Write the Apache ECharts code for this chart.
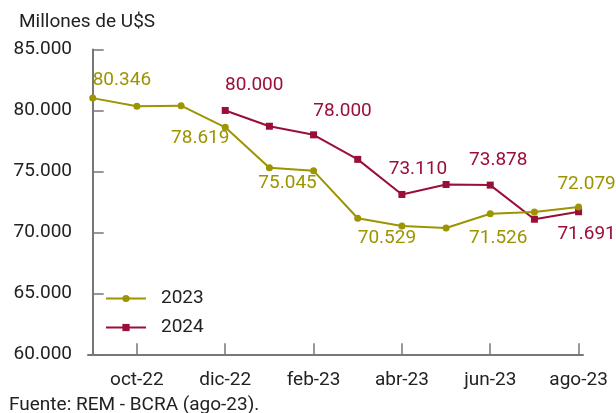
<!DOCTYPE html>
<html>
<head>
<meta charset="utf-8">
<script src="https://cdn.jsdelivr.net/npm/echarts@6/dist/echarts.min.js"></script>
<style>
html,body{margin:0;padding:0;background:#fff;}
#c{width:616px;height:413px;}
</style>
</head>
<body>
<div id="c"></div>
<script>
// ---- data ----
var categories = ['sep-22','oct-22','nov-22','dic-22','ene-23','feb-23','mar-23','abr-23','may-23','jun-23','jul-23','ago-23'];
var values2023 = [81013, 80346, 80390, 78619, 75304, 75045, 71160, 70529, 70362, 71526, 71680, 72079];
var values2024 = [null, null, null, 80000, 78706, 78000, 75988, 73110, 73929, 73878, 71079, 71691];
var tickLabelIdx = [1, 3, 5, 7, 9, 11];
var yTicks = [60000, 65000, 70000, 75000, 80000, 85000];

// ---- label placement (style only) ----
var lab2023 = {1: [-15, -26], 3: [-25, 11], 5: [-26, 12], 7: [-15, 12], 9: [8, 24], 11: [8, -23]};
var lab2024 = {3: [29, -25], 5: [29, -24], 7: [16, -25], 9: [8, -25], 11: [8, 22]};

var C23 = '#9C9400';
var C24 = '#9B0E38';
var FONT = 'Roboto';
var FS = 19;

function fmt(v) {
  return String(Math.round(v)).replace(/\B(?=(\d{3})+(?!\d))/g, '.');
}

function build(vals, labs, color) {
  var out = [];
  for (var i = 0; i < vals.length; i++) {
    if (vals[i] == null) continue;
    var item = {value: [i, vals[i]]};
    if (labs[i]) {
      item.label = {
        show: true, position: 'inside', offset: labs[i],
        formatter: function (p) { return fmt(p.value[1]); },
        color: color, fontSize: FS, fontFamily: FONT
      };
    }
    out.push(item);
  }
  return out;
}

var chart = echarts.init(document.getElementById('c'), null, {renderer: 'canvas'});
chart.setOption({
  animation: false,
  backgroundColor: '#fff',
  textStyle: {fontFamily: FONT},
  title: [
    {text: 'Millones de U$S', left: 14, top: 8, textStyle: {fontSize: FS, fontWeight: 'normal', color: '#222', fontFamily: FONT}},
    {text: 'Fuente: REM - BCRA (ago-23).', left: 4, top: 391, textStyle: {fontSize: FS, fontWeight: 'normal', color: '#222', fontFamily: FONT}}
  ],
  grid: {left: 88, right: 33, top: 49.5, bottom: 58.7, containLabel: false},
  legend: {
    orient: 'vertical', left: 100, top: 284, itemWidth: 40, itemHeight: 9, itemGap: 10,
    textStyle: {fontSize: FS, color: '#222', fontFamily: FONT, padding: [0, 0, 0, 10]},
    data: ['2023', '2024']
  },
  xAxis: {
    type: 'value', min: -0.107, max: 11.1,
    splitLine: {show: false},
    axisLine: {show: true, lineStyle: {color: '#777', width: 2}},
    axisTick: {show: true, inside: true, length: 11, customValues: tickLabelIdx, lineStyle: {color: '#777', width: 1.5}},
    axisLabel: {customValues: tickLabelIdx, margin: 16, fontSize: FS, color: '#222', fontFamily: FONT,
      formatter: function (v) { return categories[Math.round(v)] || ''; }}
  },
  yAxis: {
    type: 'value', min: 60000, max: 85000, interval: 5000,
    splitLine: {show: false},
    axisLine: {show: true, lineStyle: {color: '#777', width: 2}},
    axisTick: {show: true, inside: true, length: 11, lineStyle: {color: '#777', width: 1.5}},
    axisLabel: {margin: 16, fontSize: FS, color: '#222', fontFamily: FONT, formatter: fmt}
  },
  series: [
    {name: '2023', type: 'line', data: build(values2023, lab2023, C23), symbol: 'circle', symbolSize: 7,
      itemStyle: {color: C23}, lineStyle: {color: C23, width: 2}, z: 3},
    {name: '2024', type: 'line', data: build(values2024, lab2024, C24), symbol: 'rect', symbolSize: 7,
      itemStyle: {color: C24}, lineStyle: {color: C24, width: 2}, z: 2}
  ]
});
</script>
</body>
</html>
